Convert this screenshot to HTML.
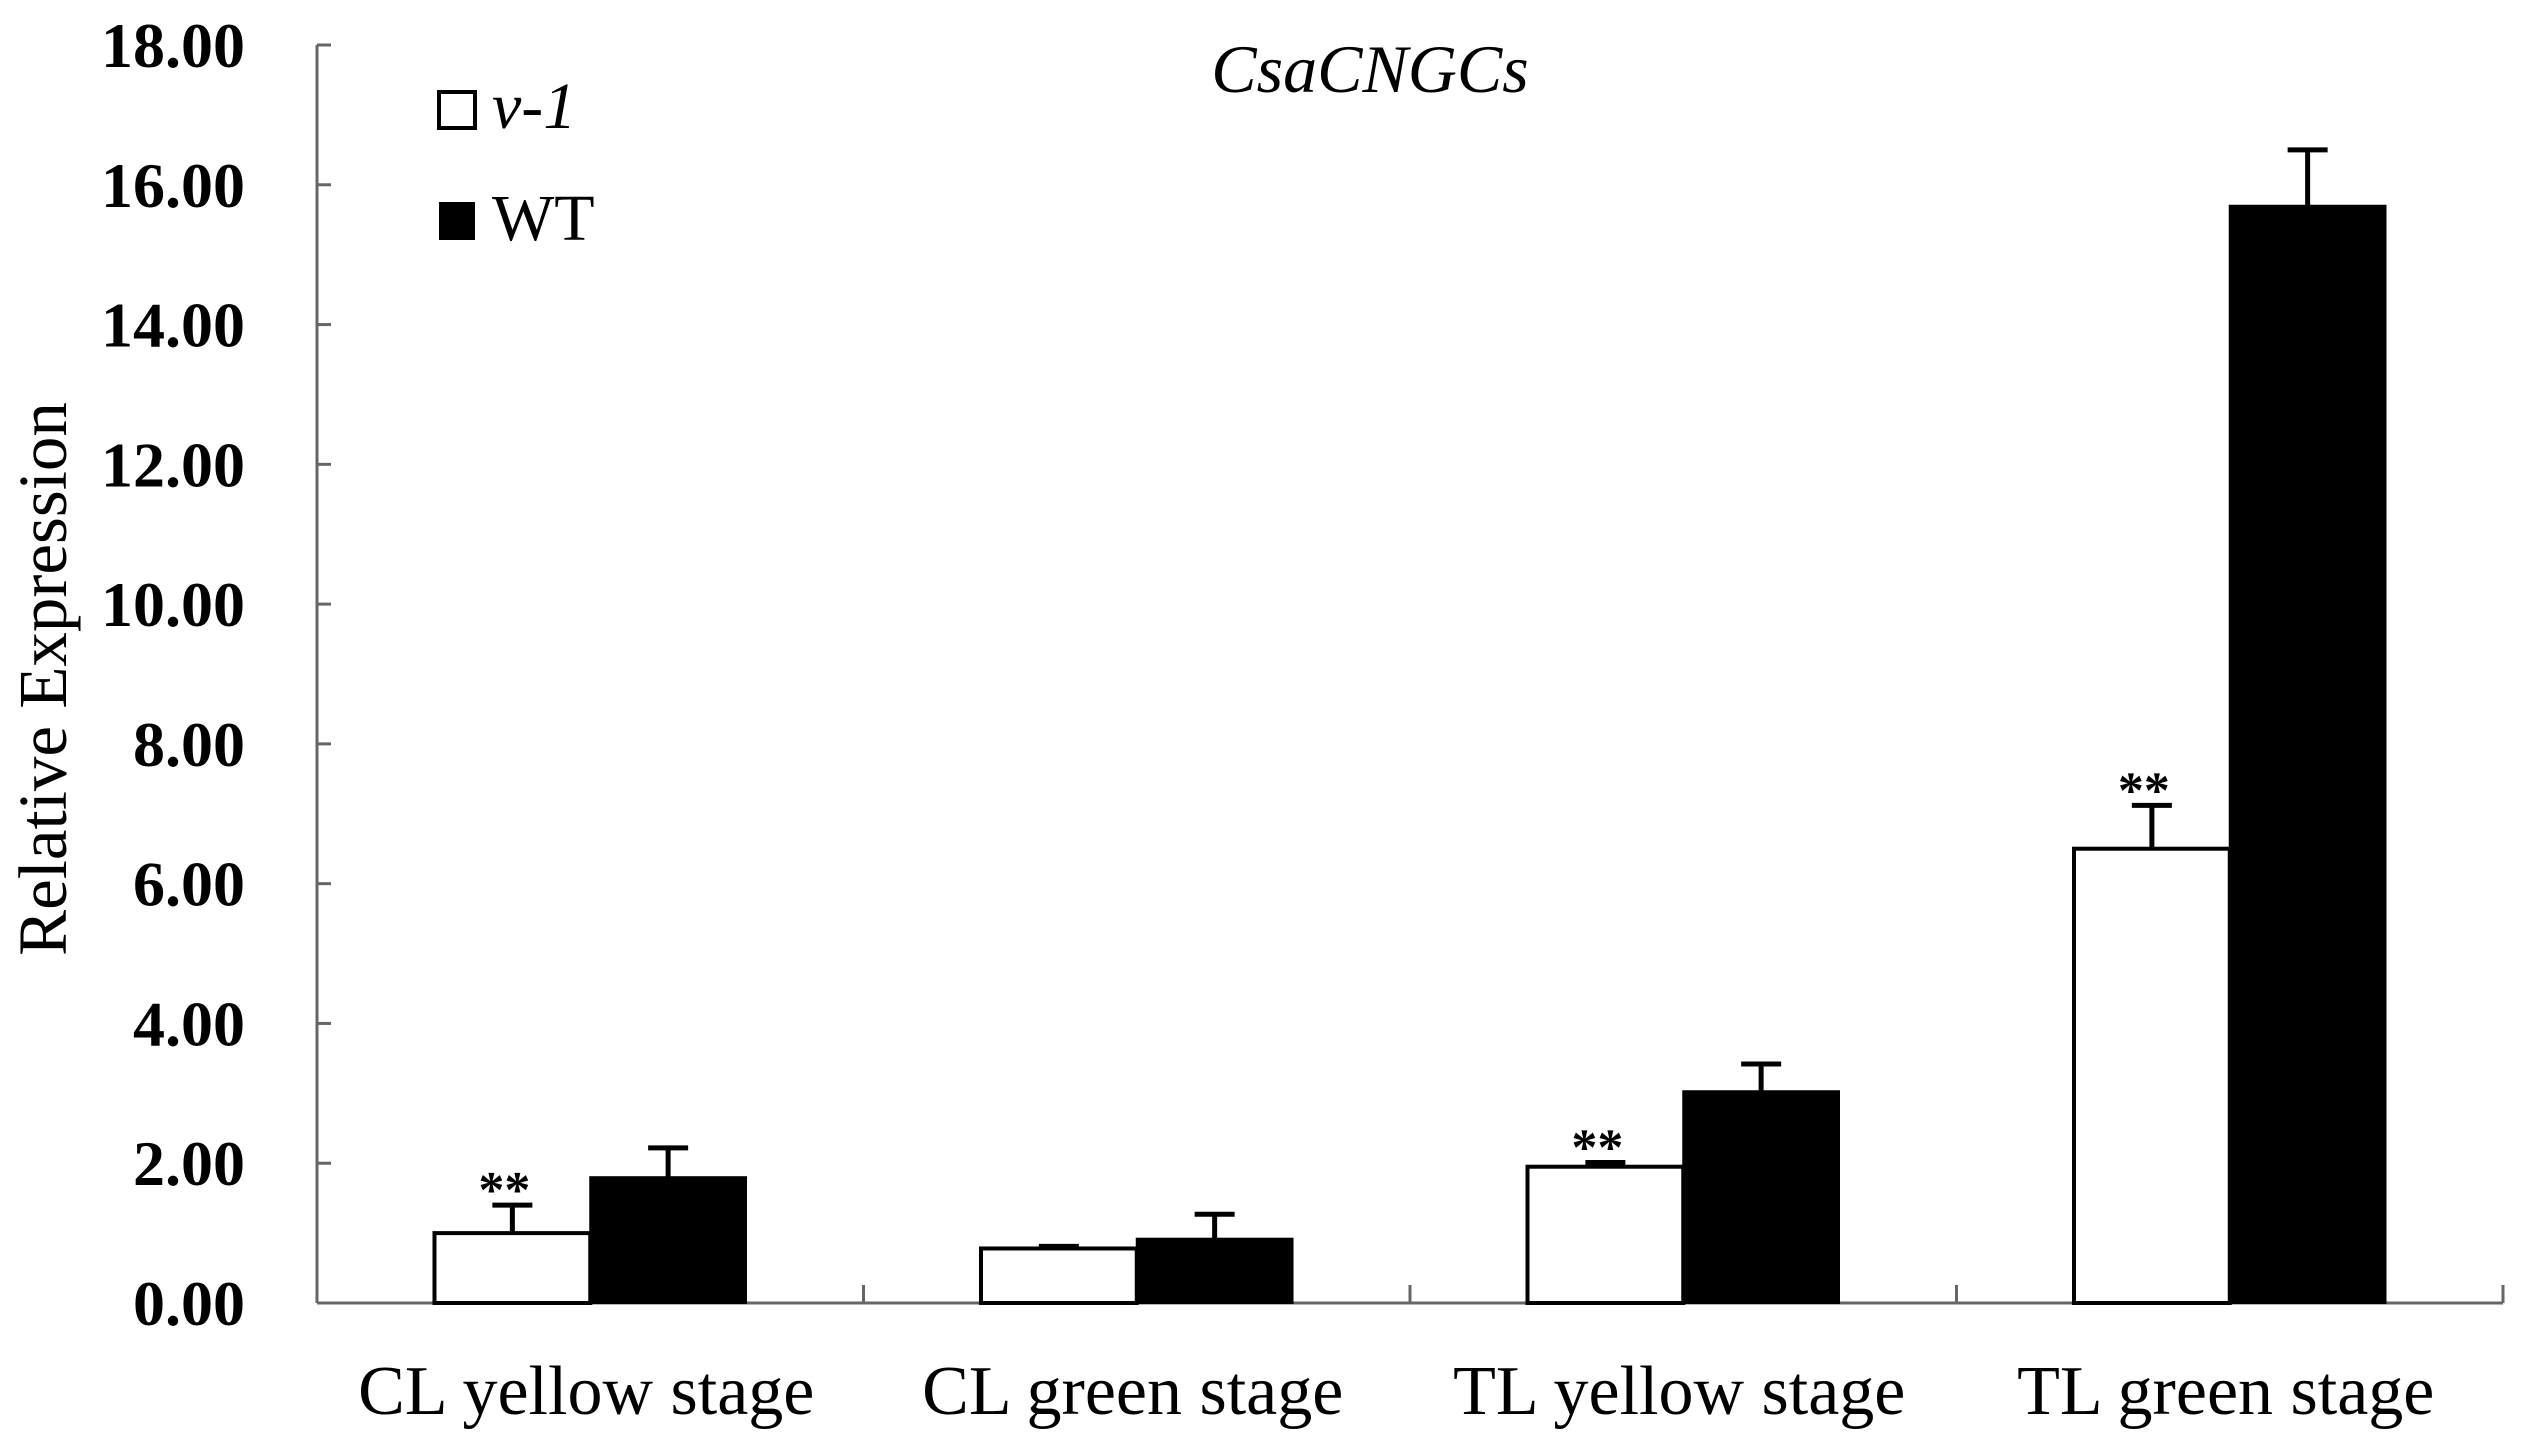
<!DOCTYPE html>
<html><head><meta charset="utf-8"><style>
html,body{margin:0;padding:0;background:#fff;}
svg{display:block;}
text{font-family:"Liberation Serif",serif;fill:#000;}
</style></head><body>
<svg id="chart" width="2522" height="1449" viewBox="0 0 2522 1449" xmlns="http://www.w3.org/2000/svg">
<g id="axes"></g><g id="bars"></g>
<text x="1370" y="92" font-size="68" font-style="italic" text-anchor="middle">CsaCNGCs</text>
<rect x="439" y="92" width="36" height="36" fill="#fff" stroke="#000" stroke-width="4"/>
<text x="492" y="128" font-size="66" font-style="italic">v-1</text>
<rect x="439" y="202" width="36" height="38" fill="#000"/>
<text x="492" y="240" font-size="66">WT</text>
<text transform="translate(66,679) rotate(-90)" font-size="69" text-anchor="middle">Relative Expression</text>
</svg>
<script>
const categories = ["CL yellow stage","CL green stage","TL yellow stage","TL green stage"];
const v1Values = [1.0, 0.78, 1.95, 6.5];
const v1Errors = [0.4, 0.03, 0.06, 0.62];
const wtValues = [1.8, 0.92, 3.03, 15.7];
const wtErrors = [0.42, 0.35, 0.39, 0.8];
const v1Sig = ["**","","**","**"];
const yTicks = [0,2,4,6,8,10,12,14,16,18];

const NS="http://www.w3.org/2000/svg";
const X0=317, X1=2503, Y0=1303, Y18=45;
const yScale=v=>Y0-(Y0-Y18)*v/18;
const bw=(X1-X0)/categories.length;
const xCenter=i=>X0+bw*(i+0.5);
const barW=bw*0.285;
function mk(tag,attrs,parent){const e=document.createElementNS(NS,tag);for(const k in attrs)e.setAttribute(k,attrs[k]);parent.appendChild(e);return e;}
const axes=document.getElementById('axes'), bars=document.getElementById('bars');
let ax=mk('line',{x1:X0,y1:yScale(18),x2:X0,y2:Y0,stroke:'#666','stroke-width':3},axes);


let bx=mk('line',{x1:X0,y1:Y0,x2:X1,y2:Y0,stroke:'#666','stroke-width':3},axes);


yTicks.forEach(t=>{
  const y=yScale(t);
  let tk=mk('line',{x1:X0,y1:y,x2:X0+14,y2:y,stroke:'#666','stroke-width':3},axes);
  
  
  let tl=mk('text',{x:245,y:y+22,'font-size':64,'font-weight':'bold','text-anchor':'end'},axes);
  tl.textContent=t.toFixed(2);
  
  
});
for(let i=1;i<=categories.length;i++){
  const x=X0+bw*i;
  let tk=mk('line',{x1:x,y1:Y0,x2:x,y2:Y0-18,stroke:'#666','stroke-width':3},axes);
  
  
}
categories.forEach((c,i)=>{
  const cx=xCenter(i);
  let lab=mk('text',{x:cx-4,y:1414,'font-size':70,'text-anchor':'middle'},axes);
  lab.textContent=c;
  
  
  [[v1Values,v1Errors,cx-barW/2],[wtValues,wtErrors,cx+barW/2]].forEach(([vals,errs,ex])=>{
    const yt=yScale(vals[i]), ye=yScale(vals[i]+errs[i]);
    let e=mk('path',{d:`M${ex},${yt} V${ye} M${ex-20},${ye} H${ex+20}`,stroke:'#000','stroke-width':5,fill:'none'},bars);
    
    
  });
  const y1=yScale(v1Values[i]);
  let r1=mk('rect',{x:cx-barW,y:y1,width:barW,height:Y0-y1,fill:'#fff',stroke:'#000','stroke-width':4},bars);
  
  
  const y2=yScale(wtValues[i]);
  let r2=mk('rect',{x:cx,y:y2,width:barW,height:Y0-y2,fill:'#000',stroke:'#000','stroke-width':2},bars);
  
  
  if(v1Sig[i]){
    let s=mk('text',{x:cx-barW/2-8,y:yScale(v1Values[i]+v1Errors[i])+2,'font-size':52,'font-weight':'bold','text-anchor':'middle'},bars);
    s.textContent=v1Sig[i];
    
    
  }
});
</script>
</body></html>
